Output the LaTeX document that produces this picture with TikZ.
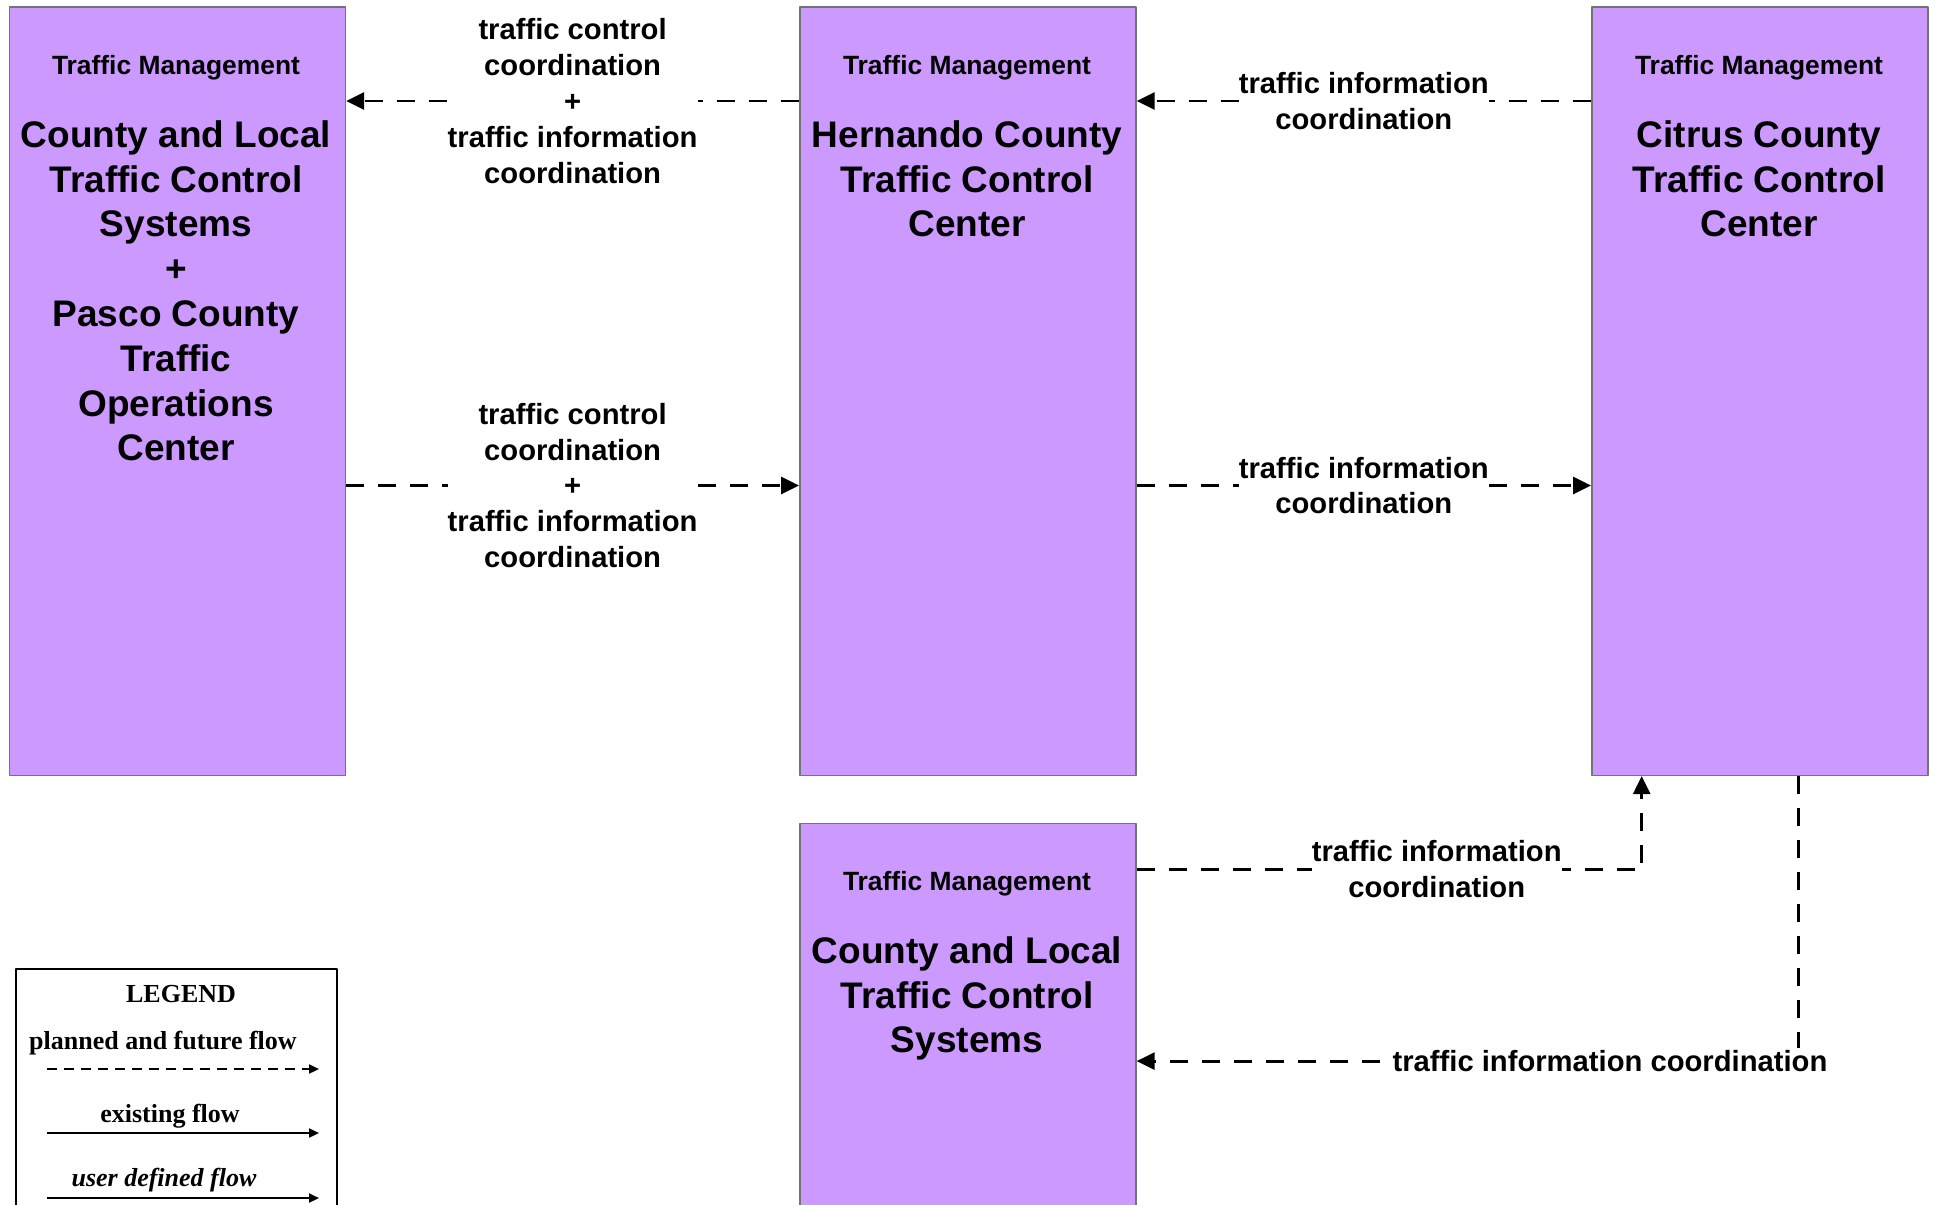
\documentclass[tikz,border=0pt]{standalone}
\usepackage{fontspec}
\setmainfont{Liberation Sans}
\newfontfamily\legendfont{Liberation Serif}
\usetikzlibrary{arrows.meta}
\definecolor{tmpurple}{HTML}{CC99FF}
\begin{document}
\begin{tikzpicture}[x=0.5pt,y=-0.5pt,>={Triangle[length=9pt,width=8.5pt]},line join=bevel,
  sysbox/.style={draw=black!55,line width=0.8pt,fill=tmpurple,minimum width=168pt,minimum height=384.25pt,anchor=north west,inner sep=0pt},
  hdr/.style={font=\fontsize{13.2}{16}\selectfont\bfseries,inner sep=0pt},
  ttl/.style={font=\fontsize{18.5}{22.4}\selectfont\bfseries,align=center,anchor=north,inner sep=0pt},
  flow/.style={->,line width=1.4pt,dash pattern=on 9pt off 7pt},
  lbl/.style={font=\fontsize{14.6}{17.9}\selectfont\bfseries,align=center,fill=white,inner xsep=0pt,inner ysep=1pt},
  leg/.style={font=\legendfont\fontsize{13}{15}\selectfont\bfseries,inner sep=0pt},
  legflow/.style={-{Triangle[length=5pt,width=4.5pt]},line width=1.1pt}]
%%
\useasboundingbox (0,0) rectangle (1937,1204);
\node[sysbox] (pasco) at (8.6,6) {};
  \node[sysbox] (hernando) at (799,6) {};
  \node[sysbox] (citrus) at (1591,6) {};
  \node[sysbox,minimum height=195pt] (local) at (799,822.7) {};
  \node[hdr] (pasco_h) at (176,68) {Traffic Management};
  \node[hdr] (hernando_h) at (967,68) {Traffic Management};
  \node[hdr] (citrus_h) at (1759,68) {Traffic Management};
  \node[hdr] (local_h) at (967,884) {Traffic Management};
  \node[ttl] (pasco_t) at (176,120) {County and Local\\Traffic Control\\Systems\\+\\Pasco County\\Traffic\\Operations\\Center};
  \node[ttl] (hernando_t) at (967,120) {Hernando County\\Traffic Control\\Center};
  \node[ttl] (citrus_t) at (1759,120) {Citrus County\\Traffic Control\\Center};
  \node[ttl] (local_t) at (967,936) {County and Local\\Traffic Control\\Systems};
  \draw[flow] ([yshift=-47.5pt]hernando.north west) -- node[lbl] (lab_hp) {traffic control\\coordination\\+\\traffic information\\coordination} ([yshift=-47.5pt]pasco.north east);
  \draw[flow] ([yshift=-239.75pt]pasco.north east) -- node[lbl] (lab_ph) {traffic control\\coordination\\+\\traffic information\\coordination} ([yshift=-239.75pt]hernando.north west);
  \draw[flow] ([yshift=-47.5pt]citrus.north west) -- node[lbl] (lab_ch) {traffic information\\coordination} ([yshift=-47.5pt]hernando.north east);
  \draw[flow] ([yshift=-239.75pt]hernando.north east) -- node[lbl] (lab_hc) {traffic information\\coordination} ([yshift=-239.75pt]citrus.north west);
  \draw[flow] ([yshift=-23.45pt]local.north east) -| ([xshift=25.35pt]citrus.south west);
  \node[lbl] (lab_lc) at (1436.7,869) {traffic information\\coordination};
  \draw[flow] ([xshift=103.8pt]citrus.south west) |- ([yshift=-119.2pt]local.north east);
  \node[lbl] (lab_cl) at (1610,1061) {traffic information coordination};
%
\node[draw,line width=1.2pt,anchor=north west,minimum width=160.5pt,minimum height=130pt,inner sep=0pt] (legend) at (15,968) {};
  \node[leg] (leg_t) at (181,994) {LEGEND};
  \node[leg] (leg_p) at (163,1043) {planned and future flow};
  \node[leg] (leg_e) at (170,1116) {existing flow};
  \node[leg] (leg_u) at (164,1180) {\itshape user defined flow};
  \coordinate (leg_p0) at (47,1069); \coordinate (leg_p1) at (319,1069);
  \coordinate (leg_e0) at (47,1133); \coordinate (leg_e1) at (319,1133);
  \coordinate (leg_u0) at (47,1198); \coordinate (leg_u1) at (319,1198);
  \draw[legflow,dash pattern=on 5pt off 3.5pt] (leg_p0) -- (leg_p1);
  \draw[legflow] (leg_e0) -- (leg_e1);
  \draw[legflow] (leg_u0) -- (leg_u1);
%
\end{tikzpicture}
\end{document}
